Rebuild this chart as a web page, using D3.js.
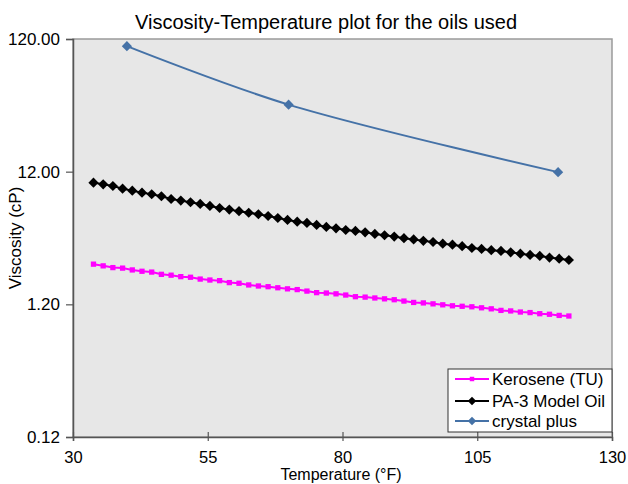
<!DOCTYPE html>
<html>
<head>
<meta charset="utf-8">
<script src="https://cdn.jsdelivr.net/npm/d3@7"></script>
<style>
  html, body { margin: 0; padding: 0; background: #ffffff; }
  svg { display: block; font-family: "Liberation Sans", Arial, sans-serif; }
</style>
</head>
<body>
<svg id="chart" width="628" height="484"></svg>
<script>
// Temperatures (°F) at which the two fluids were tabulated (1–50 °C)
const tempsF = [33.8, 35.6, 37.4, 39.2, 41, 42.8, 44.6, 46.4, 48.2, 50,
  51.8, 53.6, 55.4, 57.2, 59, 60.8, 62.6, 64.4, 66.2, 68,
  69.8, 71.6, 73.4, 75.2, 77, 78.8, 80.6, 82.4, 84.2, 86,
  87.8, 89.6, 91.4, 93.2, 95, 96.8, 98.6, 100.4, 102.2, 104,
  105.8, 107.6, 109.4, 111.2, 113, 114.8, 116.6, 118.4, 120.2, 122];

// Kerosene (TU) viscosity, cP
const kerosene = [2.41, 2.34, 2.27, 2.25, 2.18, 2.13, 2.10, 2.02, 1.99, 1.94,
  1.92, 1.86, 1.83, 1.81, 1.75, 1.73, 1.68, 1.65, 1.63, 1.60,
  1.57, 1.55, 1.51, 1.47, 1.46, 1.44, 1.41, 1.37, 1.36, 1.34,
  1.32, 1.30, 1.27, 1.24, 1.23, 1.21, 1.19, 1.17, 1.16, 1.15,
  1.13, 1.11, 1.08, 1.07, 1.05, 1.04, 1.02, 1.01, 0.99, 0.98];

// PA-3 Model Oil viscosity, cP
const pa3 = [9.92, 9.64, 9.36, 8.94, 8.63, 8.34, 8.11, 7.83, 7.47, 7.26,
  7.06, 6.85, 6.62, 6.39, 6.21, 6.04, 5.88, 5.73, 5.56, 5.37,
  5.19, 5.04, 4.93, 4.76, 4.60, 4.49, 4.36, 4.29, 4.19, 4.07,
  3.98, 3.89, 3.78, 3.70, 3.61, 3.54, 3.44, 3.38, 3.29, 3.19,
  3.14, 3.07, 3.03, 2.96, 2.89, 2.83, 2.78, 2.70, 2.65, 2.59];

// crystal plus: three measured temperatures (°F) and viscosities (cP)
const crystalTemps = [40, 70, 120];
const crystalVisc = [106, 38.4, 11.9];

const xTicks = [30, 55, 80, 105, 130];
const yTicks = [0.12, 1.2, 12, 120];

const seriesNames = ["Kerosene (TU)", "PA-3 Model Oil", "crystal plus"];
const seriesColors = ["#ff00ff", "#000000", "#4572a7"];

const svg = d3.select("#chart");
const plot = { left: 73, right: 612, top: 39, bottom: 437 };

const x = d3.scaleLinear().domain([30, 130]).range([plot.left, plot.right]);
const y = d3.scaleLog().domain([0.12, 120]).range([plot.bottom, plot.top]);

// plot area
svg.append("rect")
  .attr("x", plot.left).attr("y", plot.top)
  .attr("width", plot.right - plot.left).attr("height", plot.bottom - plot.top)
  .attr("fill", "#e7e7e7").attr("stroke", "#9a9a9a").attr("stroke-width", 1.5);

// title
svg.append("text")
  .attr("x", 326).attr("y", 29)
  .attr("text-anchor", "middle")
  .attr("font-size", 20).attr("fill", "#000")
  .text("Viscosity-Temperature plot for the oils used");

// y axis
const yAxis = d3.axisLeft(y).tickValues(yTicks).tickFormat(d3.format(".2f")).tickSize(7).tickPadding(6);
const gy = svg.append("g").attr("transform", `translate(${plot.left},0)`).call(yAxis);
gy.select(".domain").attr("stroke", "#555").attr("stroke-width", 1.5);
gy.selectAll(".tick line").attr("stroke", "#555").attr("stroke-width", 1.2);
gy.selectAll(".tick text").attr("font-size", 17).attr("fill", "#000")
  .attr("font-family", "Liberation Sans, Arial, sans-serif");

// x axis (ticks cross the axis line)
const xAxis = d3.axisBottom(x).tickValues(xTicks).tickFormat(d3.format("d")).tickSize(4).tickPadding(10);
const gx = svg.append("g").attr("transform", `translate(0,${plot.bottom})`).call(xAxis);
gx.select(".domain").attr("stroke", "#555").attr("stroke-width", 1.5);
gx.selectAll(".tick line").attr("stroke", "#555").attr("stroke-width", 1.2).attr("y1", -5);
gx.selectAll(".tick text").attr("font-size", 16.5).attr("fill", "#000")
  .attr("font-family", "Liberation Sans, Arial, sans-serif");

// axis titles
svg.append("text")
  .attr("x", 341).attr("y", 480)
  .attr("text-anchor", "middle").attr("font-size", 16).attr("fill", "#000")
  .text("Temperature (°F)");
svg.append("text")
  .attr("transform", "translate(21,238) rotate(-90)")
  .attr("text-anchor", "middle").attr("font-size", 17).attr("fill", "#000")
  .text("Viscosity (cP)");

const squareSym = d3.symbol().type(d3.symbolSquare);
const lineGen = d3.line().x(d => x(d[0])).y(d => y(d[1]));

// Kerosene (TU)
const kerPts = tempsF.map((t, i) => [t, kerosene[i]]);
svg.append("path").datum(kerPts)
  .attr("d", lineGen).attr("fill", "none")
  .attr("stroke", seriesColors[0]).attr("stroke-width", 2);
svg.append("g").selectAll("path").data(kerPts).join("path")
  .attr("d", squareSym.size(28)())
  .attr("transform", d => `translate(${x(d[0])},${y(d[1])})`)
  .attr("fill", seriesColors[0]);

// PA-3 Model Oil
const paPts = tempsF.map((t, i) => [t, pa3[i]]);
svg.append("path").datum(paPts)
  .attr("d", lineGen).attr("fill", "none")
  .attr("stroke", seriesColors[1]).attr("stroke-width", 2);
svg.append("g").selectAll("path").data(paPts).join("path")
  .attr("d", squareSym.size(52)())
  .attr("transform", d => `translate(${x(d[0])},${y(d[1])}) rotate(45)`)
  .attr("fill", seriesColors[1]);

// crystal plus (smoothed line)
const crPts = crystalTemps.map((t, i) => [t, crystalVisc[i]]);
svg.append("path").datum(crPts)
  .attr("d", d3.line().x(d => x(d[0])).y(d => y(d[1])).curve(d3.curveCatmullRom.alpha(0.5)))
  .attr("fill", "none").attr("stroke", seriesColors[2]).attr("stroke-width", 2);
svg.append("g").selectAll("path").data(crPts).join("path")
  .attr("d", squareSym.size(52)())
  .attr("transform", d => `translate(${x(d[0])},${y(d[1])}) rotate(45)`)
  .attr("fill", seriesColors[2]);

// legend
const lg = svg.append("g").attr("transform", "translate(448,369)");
lg.append("rect").attr("x", 0).attr("y", 0).attr("width", 164).attr("height", 63)
  .attr("fill", "#ffffff").attr("stroke", "#333").attr("stroke-width", 1);
const rowY = [10, 32, 52];
const markerSizes = [20, 36, 36];
const markerRot = [0, 45, 45];
seriesNames.forEach((name, i) => {
  const g = lg.append("g").attr("transform", `translate(0,${rowY[i]})`);
  g.append("line").attr("x1", 7).attr("x2", 41).attr("y1", 0).attr("y2", 0)
    .attr("stroke", seriesColors[i]).attr("stroke-width", 2);
  g.append("path").attr("d", squareSym.size(markerSizes[i])())
    .attr("transform", `translate(24,0) rotate(${markerRot[i]})`)
    .attr("fill", seriesColors[i]);
  g.append("text").attr("x", 44).attr("y", 6).attr("font-size", 17).attr("fill", "#000").text(name);
});
</script>
</body>
</html>
